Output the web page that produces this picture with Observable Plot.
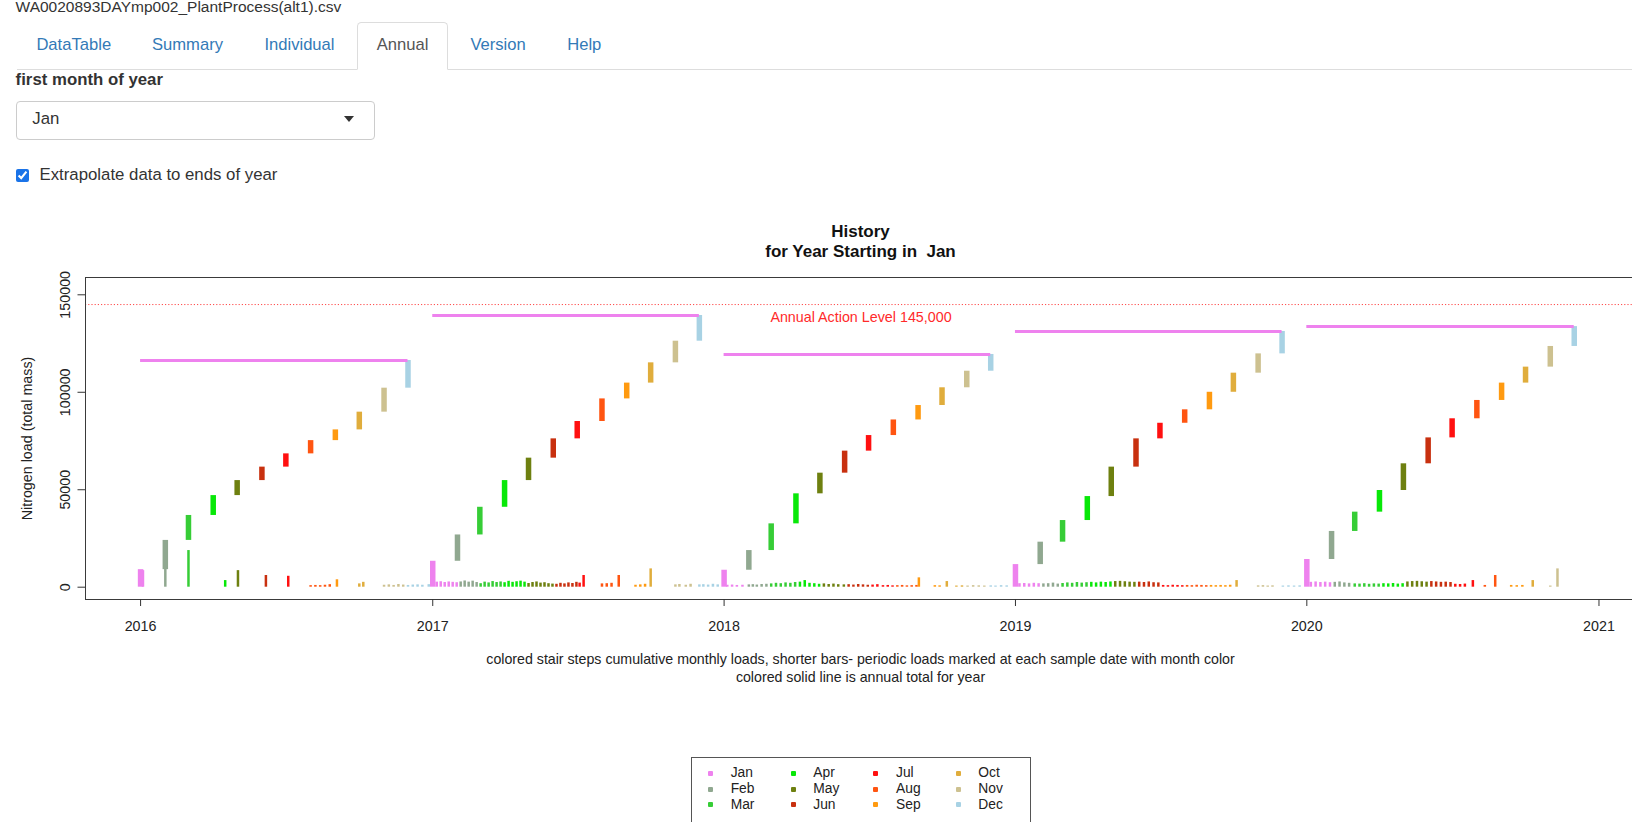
<!DOCTYPE html>
<html><head><meta charset="utf-8">
<script src="https://cdn.jsdelivr.net/npm/d3@7"></script>
<script src="https://cdn.jsdelivr.net/npm/@observablehq/plot@0.6"></script>
<style>
html,body{margin:0;padding:0;background:#fff;overflow:hidden;}
body{width:1632px;height:822px;position:relative;font-family:"Liberation Sans",Arial,Helvetica,sans-serif;color:#333;}
.abs{position:absolute;white-space:pre;}
.tab{position:absolute;top:35px;font-size:16.6px;line-height:20px;color:#337ab7;}
#active{position:absolute;left:357px;top:22px;width:90.5px;height:48px;border:1px solid #ddd;border-bottom:1px solid #fff;border-radius:4.5px 4.5px 0 0;background:#fff;box-sizing:border-box;}
#tabline{position:absolute;left:17px;top:69px;width:1640px;height:1px;background:#ddd;}
#select{position:absolute;left:15.6px;top:101px;width:359px;height:38.5px;border:1px solid #ccc;border-radius:4px;box-sizing:border-box;}
#caret{position:absolute;left:343.5px;top:116px;width:0;height:0;border-left:5px solid transparent;border-right:5px solid transparent;border-top:6px solid #333;}
#chk{position:absolute;left:15.6px;top:168.5px;width:13px;height:13px;margin:0;accent-color:#1a73e8;}
#legendBox{position:absolute;left:690.5px;top:756.7px;width:340px;height:90px;border:1px solid #555;box-sizing:border-box;}
.lgm{position:absolute;width:5px;height:5px;border-radius:1px;}
.lgt{position:absolute;font-size:13.8px;line-height:16px;color:#222;}
</style></head><body>
<div class="abs" style="left:15.6px;top:-3px;font-size:15.5px;line-height:20px;color:#333;">WA0020893DAYmp002_PlantProcess(alt1).csv</div>
<div id="tabline"></div>
<div id="active"></div>
<div class="tab" style="left:36.4px;">DataTable</div>
<div class="tab" style="left:152px;">Summary</div>
<div class="tab" style="left:264.4px;">Individual</div>
<div class="tab" style="left:376.8px;color:#555;">Annual</div>
<div class="tab" style="left:470.4px;">Version</div>
<div class="tab" style="left:567.2px;">Help</div>
<div class="abs" style="left:15.6px;top:70px;font-size:16.8px;line-height:20px;font-weight:bold;color:#333;">first month of year</div>
<div id="select"></div>
<div class="abs" style="left:32.3px;top:108.6px;font-size:16.8px;line-height:20px;color:#333;">Jan</div>
<div id="caret"></div>
<input type="checkbox" id="chk" checked>
<div class="abs" style="left:39.5px;top:165px;font-size:16.8px;line-height:20px;color:#333;">Extrapolate data to ends of year</div>

<div class="abs" style="left:0;width:1721px;text-align:center;top:221.7px;font-size:17px;line-height:20px;font-weight:bold;color:#111;">History</div>
<div class="abs" style="left:0;width:1721px;text-align:center;top:241.7px;font-size:17px;line-height:20px;font-weight:bold;color:#111;">for Year Starting in  Jan</div>

<div id="chart" style="position:absolute;left:0;top:265px;width:1640px;"></div>

<div class="abs" style="left:0;width:1721px;text-align:center;top:650px;font-size:14.2px;line-height:18px;color:#222;">colored stair steps cumulative monthly loads, shorter bars- periodic loads marked at each sample date with month color</div>
<div class="abs" style="left:0;width:1721px;text-align:center;top:667.5px;font-size:14.2px;line-height:18px;color:#222;">colored solid line is annual total for year</div>

<div id="legendBox"></div>
<div id="legend"></div>

<script>
const months = ["Jan","Feb","Mar","Apr","May","Jun","Jul","Aug","Sep","Oct","Nov","Dec"];
const monthColors = ["#ee82ee","#90a890","#36cd36","#08e808","#6e8010","#c8300f","#ff1010","#ff5511","#ff9a10","#e0ad3c","#cdc190","#a8d2e4"];
const years = [2016, 2017, 2018, 2019, 2020];
const xTickYears = [2016, 2017, 2018, 2019, 2020, 2021];
const yTicks = [0, 50000, 100000, 150000];
const actionLevel = 145000;
const actionLabel = "Annual Action Level 145,000";
const yLabel = "Nitrogen load (total mass)";

// cumulative load at end of each month
const cum2016 = [9000, 24000, 36800, 47000, 54700, 61600, 68400, 75200, 80700, 89800, 102100, 116300];
const cum2017 = [13300, 26800, 41000, 54700, 66200, 76100, 85000, 96600, 104700, 115100, 126200, 139400];
const cum2018 = [8700, 18800, 32500, 47900, 58500, 69800, 77800, 85800, 93200, 102300, 110800, 119400];
const cum2019 = [11600, 23100, 34200, 46500, 61600, 76100, 84100, 91000, 100000, 109800, 119700, 131200];
const cum2020 = [14200, 28600, 38500, 49600, 63300, 76600, 86400, 95800, 104700, 112900, 123500, 133700];

// periodic loads at sample dates
const periodic2016 = [["2016-01-04",8500],["2016-02-01",9500],["2016-03-01",18800],["2016-04-16",3400],["2016-05-02",8500],["2016-06-06",6000],["2016-07-04",5600],
["2016-08-01",800],["2016-08-07",900],["2016-08-13",800],["2016-08-19",1000],["2016-08-25",1300],["2016-09-03",3800],["2016-10-01",1700],["2016-10-06",2500],
["2016-11-01",1000],["2016-11-07",1200],["2016-11-13",900],["2016-11-19",1400],["2016-11-25",1100],["2016-12-01",900],["2016-12-07",1100],["2016-12-13",1200],["2016-12-19",1000],["2016-12-27",1300]];
const periodic2017 = [["2017-01-06",2600],["2017-01-11",2800],["2017-01-16",2400],["2017-01-21",2700],["2017-01-26",2500],["2017-01-31",2300],
["2017-02-05",2700],["2017-02-10",3200],["2017-02-15",2600],["2017-02-20",3100],["2017-02-25",2400],
["2017-03-02",1800],["2017-03-07",2600],["2017-03-12",2200],["2017-03-17",2900],["2017-03-22",2400],["2017-03-27",2700],
["2017-04-01",2300],["2017-04-06",3000],["2017-04-11",2500],["2017-04-16",2800],["2017-04-21",3100],["2017-04-26",2600],
["2017-05-01",1900],["2017-05-06",2400],["2017-05-11",2700],["2017-05-16",2100],["2017-05-21",2300],["2017-05-26",1800],["2017-05-31",1600],
["2017-06-05",1500],["2017-06-10",2000],["2017-06-15",1700],["2017-06-20",2200],["2017-06-25",1900],["2017-06-30",2500],
["2017-07-04",2100],["2017-07-09",6000],["2017-08-01",1700],["2017-08-07",1800],["2017-08-13",2000],["2017-08-22",6000],
["2017-09-12",1000],["2017-09-18",1200],["2017-09-24",1500],["2017-10-01",9400],
["2017-11-01",1200],["2017-11-06",1400],["2017-11-14",1000],["2017-11-20",1500],["2017-12-01",1200],["2017-12-06",1300],["2017-12-12",1100],["2017-12-18",1500],["2017-12-24",1200]];
const periodic2018 = [["2018-01-05",1000],["2018-01-11",1100],["2018-01-17",900],["2018-01-24",1000],
["2018-02-01",1200],["2018-02-06",1300],["2018-02-11",1100],["2018-02-17",1400],["2018-02-23",1500],
["2018-03-01",1700],["2018-03-07",2000],["2018-03-13",1800],["2018-03-19",2200],["2018-03-25",2000],["2018-03-31",2400],["2018-04-06",2600],["2018-04-12",3400],
["2018-04-18",2000],["2018-04-24",1800],["2018-04-30",1500],["2018-05-06",1700],["2018-05-12",1400],["2018-05-18",1600],["2018-05-24",1300],["2018-05-31",1200],
["2018-06-06",1300],["2018-06-12",1100],["2018-06-18",1400],["2018-06-24",1200],["2018-06-30",1000],["2018-07-06",1100],["2018-07-12",1300],
["2018-07-19",800],["2018-07-25",900],["2018-07-31",700],["2018-08-06",800],["2018-08-12",900],["2018-08-18",700],["2018-08-24",800],["2018-08-30",900],["2018-09-02",4800],
["2018-09-22",800],["2018-09-28",700],["2018-10-07",2900],
["2018-10-19",600],["2018-10-26",700],["2018-11-02",600],["2018-11-09",800],["2018-11-16",700],["2018-11-23",600],["2018-12-01",700],["2018-12-07",600],["2018-12-14",800],["2018-12-21",700]];
const periodic2019 = [["2019-01-06",1800],["2019-01-12",1900],["2019-01-18",1700],["2019-01-24",2000],["2019-01-30",1800],
["2019-02-05",1700],["2019-02-11",1800],["2019-02-17",2100],["2019-02-23",1600],
["2019-03-01",1900],["2019-03-07",2200],["2019-03-13",2000],["2019-03-19",2400],["2019-03-25",2100],["2019-03-31",2300],
["2019-04-06",2500],["2019-04-12",2200],["2019-04-18",2600],["2019-04-24",2400],["2019-04-30",2700],
["2019-05-06",2900],["2019-05-12",3000],["2019-05-18",2800],["2019-05-24",2600],["2019-05-30",2500],
["2019-06-05",2600],["2019-06-11",2400],["2019-06-17",2700],["2019-06-23",2300],["2019-06-29",2200],
["2019-07-05",900],["2019-07-11",800],["2019-07-17",1000],["2019-07-23",900],["2019-07-29",800],
["2019-08-04",900],["2019-08-10",800],["2019-08-16",1000],["2019-08-22",900],["2019-08-28",800],
["2019-09-03",900],["2019-09-09",800],["2019-09-15",900],["2019-09-21",800],["2019-09-27",1000],["2019-10-05",3400],
["2019-11-01",700],["2019-11-07",800],["2019-11-13",600],["2019-11-19",700],["2019-12-02",600],["2019-12-09",700],["2019-12-16",600],["2019-12-23",700]];
const periodic2020 = [["2020-01-06",2500],["2020-01-12",2700],["2020-01-18",2400],["2020-01-24",2600],["2020-01-30",2300],
["2020-02-05",2500],["2020-02-11",2700],["2020-02-17",2200],["2020-02-23",2000],
["2020-03-01",1700],["2020-03-07",1600],["2020-03-13",1800],["2020-03-19",1500],["2020-03-25",1700],["2020-03-31",1600],
["2020-04-06",1800],["2020-04-12",1700],["2020-04-18",1900],["2020-04-24",1600],["2020-04-30",1800],
["2020-05-06",2700],["2020-05-12",2900],["2020-05-18",3000],["2020-05-24",2800],["2020-05-30",2600],
["2020-06-05",2900],["2020-06-11",2700],["2020-06-17",2500],["2020-06-23",2600],["2020-06-29",2400],
["2020-07-05",1500],["2020-07-11",1400],["2020-07-17",1600],["2020-07-27",3400],["2020-08-11",900],["2020-08-24",6000],
["2020-09-13",900],["2020-09-20",800],["2020-09-27",900],["2020-10-10",3400],["2020-11-01",600],["2020-11-10",9400]];

const cumByYear = {2016: cum2016, 2017: cum2017, 2018: cum2018, 2019: cum2019, 2020: cum2020};
const utc = (y, m, d) => new Date(Date.UTC(y, m, d));

const stepRows = years.flatMap(yr => cumByYear[yr].map((v, m) => ({
  x: utc(yr, m, 1), y1: m ? cumByYear[yr][m - 1] : 0, y2: v, month: months[m]
})));
const annualRows = years.map(yr => ({x1: utc(yr, 0, 1), x2: utc(yr, 11, 1), y: cumByYear[yr][11]}));
const sampleRows = [periodic2016, periodic2017, periodic2018, periodic2019, periodic2020].flat().map(([d, v]) => {
  const dt = new Date(d + "T00:00:00Z");
  return {x: dt, y: v, month: months[dt.getUTCMonth()]};
});

const chart = Plot.plot({
  width: 1640, height: 385,
  marginLeft: 85, marginRight: 4, marginTop: 12, marginBottom: 51,
  x: {type: "utc", domain: [utc(2015, 9, 24), utc(2021, 1, 17)]},
  y: {domain: [-6310, 158880]},
  color: {domain: months, range: monthColors},
  style: {fontFamily: "'Liberation Sans', Arial, sans-serif", fontSize: "14.3px", color: "#222", background: "transparent", overflow: "visible", maxWidth: "none"},
  marks: [
    Plot.ruleY([actionLevel], {y: d => d, stroke: "#ff4a4a", strokeWidth: 1, strokeDasharray: "1.2 2"}),
    Plot.text([actionLevel], {y: d => d, text: () => actionLabel, frameAnchor: "middle", dy: 12.5, fill: "#ff2a2a", fontSize: 14.3}),
    Plot.ruleX(sampleRows, {x: "x", y1: 0, y2: "y", stroke: "month", strokeWidth: 2.5}),
    Plot.ruleX(stepRows, {x: "x", y1: "y1", y2: "y2", stroke: "month", strokeWidth: 5.5}),
    Plot.ruleY(annualRows, {y: "y", x1: "x1", x2: "x2", stroke: monthColors[0], strokeWidth: 3}),
    Plot.frame({stroke: "#3a3a3a"}),
    Plot.axisX(xTickYears.map(y => utc(y, 0, 1)), {tickFormat: d => String(d.getUTCFullYear()), tickSize: 7, tickPadding: 14, label: null, fontSize: 14.3, stroke: "#333"}),
    Plot.axisY(yTicks, {tickSize: 7.5, tickRotate: -90, tickPadding: 8, label: null, tickFormat: d => String(d), fontSize: 14.3, stroke: "#333"}),
    Plot.text([yLabel], {text: d => d, frameAnchor: "left", textAnchor: "middle", rotate: -90, dx: -58, fontSize: 14.3, fill: "#222"})
  ]
});
document.getElementById("chart").appendChild(chart);

// legend: 4 columns x 3 rows
const lgMarkX = [710, 793.3, 875, 958.3];
const lgTextX = [730.7, 813.3, 896, 978.3];
const lgRowY = [773.3, 789, 804.6];
const lg = document.getElementById("legend");
months.forEach((m, i) => {
  const c = Math.floor(i / 3), r = i % 3;
  const mk = document.createElement("div");
  mk.className = "lgm";
  mk.style.left = (lgMarkX[c] - 2.5) + "px";
  mk.style.top = (lgRowY[r] - 2.5) + "px";
  mk.style.background = monthColors[i];
  lg.appendChild(mk);
  const t = document.createElement("div");
  t.className = "lgt";
  t.style.left = lgTextX[c] + "px";
  t.style.top = (lgRowY[r] - 8) + "px";
  t.textContent = m;
  lg.appendChild(t);
});
</script>
</body></html>
